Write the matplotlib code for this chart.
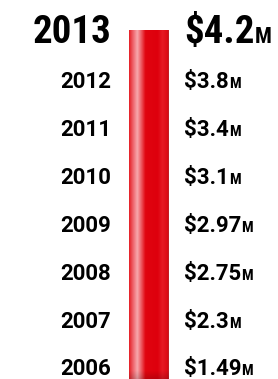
import numpy as np
import matplotlib
matplotlib.use("Agg")
import matplotlib.pyplot as plt

years = ["2013", "2012", "2011", "2010", "2009", "2008", "2007", "2006"]
values = ["$4.2", "$3.8", "$3.4", "$3.1", "$2.97", "$2.75", "$2.3", "$1.49"]
unit = "M"

cond = ["Roboto Condensed", "DejaVu Sans"]
wide = ["Roboto", "DejaVu Sans"]

fig = plt.figure(figsize=(2.78, 3.79), dpi=100)
ax = fig.add_axes([0, 0, 1, 1])
ax.set_xlim(0, 278)
ax.set_ylim(7.242, -0.670)
ax.axis("off")

rows = np.arange(len(years), dtype=float)

# column behind the labels, glossy red
bar_left, bar_right = 129, 169
bar_top = rows[0] - 0.044
bar_bottom = rows[-1] + 0.3
rect = ax.bar((bar_left + bar_right) / 2, bar_bottom - bar_top, bottom=bar_top,
              width=bar_right - bar_left, color="none", edgecolor="none")[0]

u = np.linspace(0, 1, 80)
stops = [0.0, 0.08, 0.2, 0.3, 0.4, 0.7, 0.82, 0.92, 0.97, 1.0]
rs = [0.90, 0.93, 0.97, 0.93, 0.88, 0.87, 0.90, 0.88, 0.80, 0.55]
gs = [0.12, 0.35, 0.66, 0.35, 0.02, 0.00, 0.10, 0.05, 0.05, 0.52]
bs = [0.15, 0.38, 0.68, 0.38, 0.06, 0.05, 0.14, 0.09, 0.08, 0.52]
prof = np.stack([np.interp(u, stops, rs), np.interp(u, stops, gs), np.interp(u, stops, bs)], axis=-1)
v = np.linspace(0, 1, 200)[:, None, None]
shade = 1 - 0.2 * np.clip((v - 0.97) / 0.03, 0, 1)
img = prof[None, :, :] * shade
im = ax.imshow(img, extent=(bar_left, bar_right + 1, bar_bottom, bar_top),
               aspect="auto", interpolation="bilinear", zorder=1)
im.set_clip_path(rect)

year_x = 111
value_x = 184

for i, (yr, val) in enumerate(zip(years, values)):
    if i == 0:
        base = rows[i] + 0.228
        ax.text(year_x, base, yr, ha="right", va="baseline", fontsize=28,
                fontweight="bold", family=cond, color="black")
        t2 = ax.text(value_x, base, val, ha="left", va="baseline", fontsize=28,
                     fontweight="bold", family=cond, color="black")
        ax.annotate(unit, xy=(1.0, base), xycoords=(t2, "data"), ha="left",
                    va="baseline", fontsize=16, fontweight="bold", family=cond)
    else:
        base = rows[i] + 0.168
        ax.text(year_x, base, yr, ha="right", va="baseline", fontsize=16,
                fontweight="bold", family=wide, color="black")
        t2 = ax.text(value_x, base, val, ha="left", va="baseline", fontsize=16,
                     fontweight="bold", family=wide, color="black")
        ax.annotate(unit, xy=(1.0, base), xycoords=(t2, "data"), ha="left",
                    va="baseline", fontsize=11, fontweight="bold", family=cond)

fig.savefig("out.png", dpi=100)
